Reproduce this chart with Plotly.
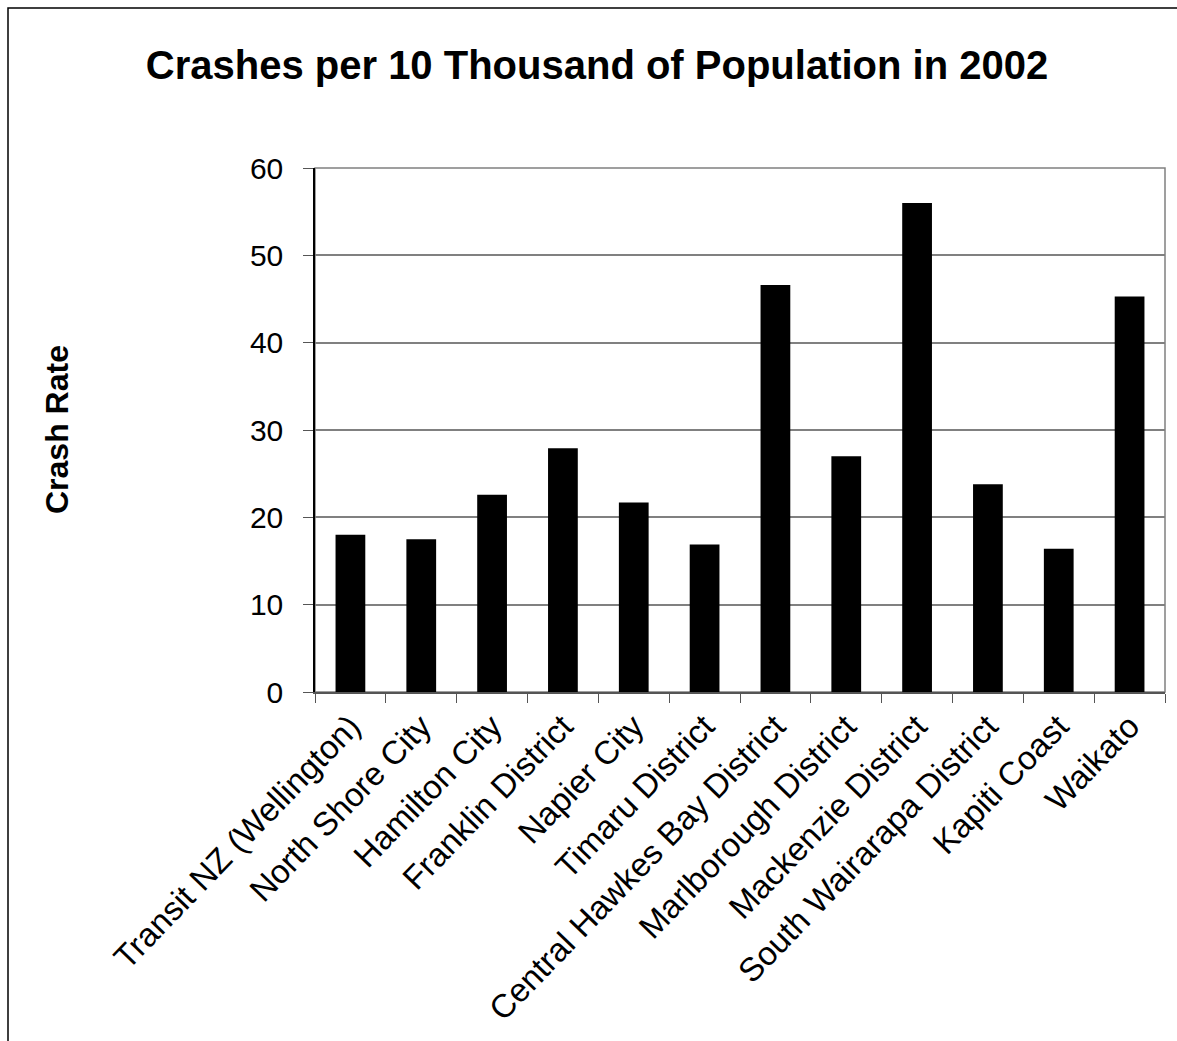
import plotly.graph_objects as go

categories = ["Transit NZ (Wellington)", "North Shore City", "Hamilton City", "Franklin District",
              "Napier City", "Timaru District", "Central Hawkes Bay District", "Marlborough District",
              "Mackenzie District", "South Wairarapa District", "Kapiti Coast", "Waikato"]
crash_rate = [18.0, 17.5, 22.6, 27.9, 21.7, 16.9, 46.6, 27.0, 56.0, 23.8, 16.4, 45.3]
y_ticks = [0, 10, 20, 30, 40, 50, 60]

W, H = 1177, 1041
L, R, T, B = 315, 1165, 168, 692

fig = go.Figure(go.Bar(
    x=categories, y=crash_rate, width=0.42,
    marker=dict(color="black", line=dict(color="black", width=0)),
))

FONT = "Liberation Sans, Arial, sans-serif"

def px_x(p):
    return (p - L) / (R - L)

def px_y(p):
    return (B - p) / (B - T)

fig.update_layout(
    width=W, height=H,
    margin=dict(l=L, r=W - R, t=T, b=H - B, autoexpand=False),
    paper_bgcolor="white", plot_bgcolor="white",
    font=dict(family=FONT, color="black"),
    showlegend=False,
    title=dict(text="<b>Crashes per 10 Thousand of Population in 2002</b>",
               x=597 / W, xanchor="center", y=1 - 65 / H, yanchor="middle",
               font=dict(size=40, family=FONT, color="black")),
    xaxis=dict(
        tickangle=-46, tickfont=dict(size=33, family=FONT, color="black"),
        tickson="boundaries", ticks="outside", ticklen=9, tickcolor="#555555",
        showline=True, linecolor="#555555", linewidth=1.5, mirror=False,
        showgrid=False, range=[-0.5, 11.5],
    ),
    yaxis=dict(
        range=[0, 60], tickvals=y_ticks, tickfont=dict(size=30, family=FONT, color="black"),
        ticks="outside", ticklen=10, tickcolor="#555555", ticklabelstandoff=14,
        showline=True, linecolor="black", linewidth=1.5,
        showgrid=True, gridcolor="#808080", gridwidth=1.5, zeroline=False,
    ),
    annotations=[dict(
        text="<b>Crash Rate</b>", xref="paper", yref="paper",
        x=px_x(57), y=px_y(430), xanchor="center", yanchor="middle",
        textangle=-90, showarrow=False, font=dict(size=32, family=FONT, color="black"),
    )],
    shapes=[
        dict(type="rect", xref="paper", yref="paper", x0=0, x1=1, y0=0, y1=1,
             line=dict(color="#808080", width=1.5), layer="below"),
        dict(type="rect", xref="paper", yref="paper", x0=px_x(8), x1=px_x(1200),
             y0=px_y(1100), y1=px_y(8), line=dict(color="black", width=1.5)),
    ],
)

fig.write_html("out.html")
